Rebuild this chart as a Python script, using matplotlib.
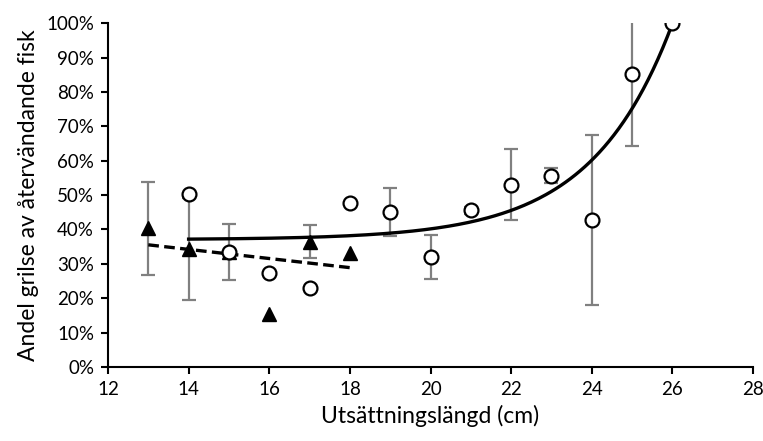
import numpy as np
import matplotlib
matplotlib.use("Agg")
import matplotlib.pyplot as plt
from matplotlib.ticker import PercentFormatter

# Data (andel grilse, %)
x_circ = np.array([14, 15, 16, 17, 18, 19, 20, 21, 22, 23, 24, 25, 26])
y_circ = np.array([50.2, 33.5, 27.3, 23.1, 47.8, 45.1, 32.0, 45.6, 53.0, 55.7, 42.7, 85.2, 100.0])
e_circ = np.array([0, 0, 0, 0, 0, 7.0, 6.4, 1.0, 10.3, 2.2, 24.7, 21.0, 0])

x_tri = np.array([13, 14, 15, 16, 17, 18])
y_tri = np.array([40.3, 34.3, 33.5, 15.4, 36.5, 33.3])
e_tri = np.array([13.6, 14.8, 8.1, 0, 4.7, 0])

# exponential trend for circles: a + b*exp(c*(x-14))
a_exp, b_exp, c_exp = 37.04, 0.156, 0.5

plt.rcParams['font.family'] = ['Lato', 'DejaVu Sans']
fig = plt.figure(figsize=(7.63, 4.41), dpi=100)
ax = fig.add_axes([0.1415, 0.168, 0.8455, 0.779])

ecol = '#808080'
m = e_tri > 0
ax.errorbar(x_tri[m], y_tri[m], yerr=e_tri[m], fmt='none', ecolor=ecol, elinewidth=1.6, capsize=5, capthick=1.6, zorder=2)
m = e_circ > 0
ax.errorbar(x_circ[m], y_circ[m], yerr=e_circ[m], fmt='none', ecolor=ecol, elinewidth=1.6, capsize=5, capthick=1.6, zorder=2)

# trend lines
xc = np.linspace(14, 26, 200)
ax.plot(xc, a_exp + b_exp*np.exp(c_exp*(xc - 14)), color='black', lw=2.4, zorder=3)
k, m0 = np.polyfit(x_tri, y_tri, 1)
xt = np.array([13, 18])
ax.plot(xt, k*xt + m0, color='black', lw=2.4, ls=(0, (3.2, 1.6)), zorder=3)

ax.plot(x_tri, y_tri, ls='none', marker='^', ms=10, color='black', zorder=4)
ax.plot(x_circ, y_circ, ls='none', marker='o', ms=10, mfc='white', mec='black', mew=1.6, zorder=5)

ax.set_xlim(12, 28)
ax.set_ylim(0, 100)
ax.set_xticks(np.arange(12, 29, 2))
ax.set_yticks(np.arange(0, 101, 10))
ax.yaxis.set_major_formatter(PercentFormatter(decimals=0))
for s in ['top', 'right']:
    ax.spines[s].set_visible(False)
for s in ['left', 'bottom']:
    ax.spines[s].set_linewidth(1.5)
ax.tick_params(direction='out', length=5, width=1.5, labelsize=13.5, pad=5)
ax.set_xlabel('Utsättningslängd (cm)', fontsize=16.5, labelpad=5)
ax.set_ylabel('Andel grilse av återvändande fisk', fontsize=16.5, labelpad=5)

fig.savefig('out.png', dpi=100)
